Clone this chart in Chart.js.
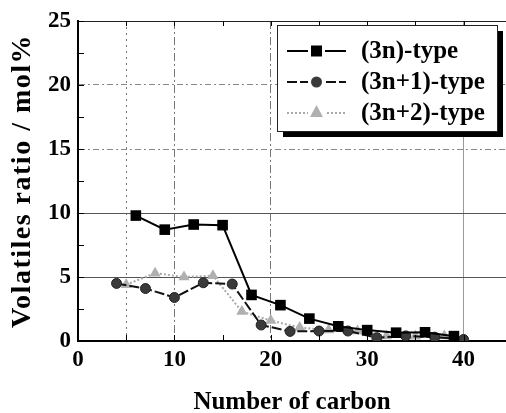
<!DOCTYPE html>
<html lang="en">

<head>
    <meta charset="UTF-8">
    <title>Volatiles ratio vs number of carbon</title>
    <script src="https://cdn.jsdelivr.net/npm/chart.js@4/dist/chart.umd.js"></script>
    <style>
        body {
            margin: 0;
            background: #fff;
        }

        #wrap {
            width: 506px;
            height: 413px;
        }
    </style>
</head>

<body>
    <div id="wrap">
        <canvas id="volChart" width="506" height="413"></canvas>
    </div>

    <script>
        const carbon3n = [6, 9, 12, 15, 18, 21, 24, 27, 30, 33, 36, 39];
        const ratio3n = [9.8, 8.7, 9.1, 9.05, 3.6, 2.8, 1.75, 1.15, 0.85, 0.65, 0.68, 0.38];
        const carbon3n1 = [4, 7, 10, 13, 16, 19, 22, 25, 28, 31, 34, 37, 40];
        const ratio3n1 = [4.5, 4.1, 3.4, 4.55, 4.45, 1.25, 0.75, 0.78, 0.78, 0.26, 0.4, 0.3, 0.12];
        const carbon3n2 = [5, 8, 11, 14, 17, 20, 23, 26, 29, 32, 35, 38];
        const ratio3n2 = [4.4, 5.3, 5.0, 5.1, 2.3, 1.6, 1.05, 0.85, 0.78, 0.4, 0.38, 0.4];
        const seriesNames = ['(3n)-type', '(3n+1)-type', '(3n+2)-type'];
        const xTickLabels = [0, 10, 20, 30, 40];
        const yTickLabels = [0, 5, 10, 15, 20, 25];

        const serif = "'Liberation Serif', 'Times New Roman', serif";
        Chart.defaults.font.family = serif;

        function toPoints(xs, ys) {
            return xs.map((x, i) => ({ x: x, y: ys[i] }));
        }

        // short inward tick marks like the original plot
        const innerTicks = {
            id: 'innerTicks',
            afterDatasetsDraw(chart) {
                const { ctx, chartArea, scales } = chart;
                ctx.save();
                ctx.strokeStyle = '#000';
                ctx.lineWidth = 1;
                ctx.beginPath();
                scales.y.ticks.forEach(t => {
                    if (t.value <= 0 || t.value > 25) return;
                    const py = Math.round(scales.y.getPixelForValue(t.value)) + 0.5;
                    ctx.moveTo(chartArea.left, py);
                    ctx.lineTo(chartArea.left + 6, py);
                });
                scales.x.ticks.forEach(t => {
                    if (t.value <= 0 || t.value > 40) return;
                    const px = Math.round(scales.x.getPixelForValue(t.value)) + 0.5;
                    ctx.moveTo(px, chartArea.bottom);
                    ctx.lineTo(px, chartArea.bottom - 6);
                    ctx.moveTo(px, chartArea.top);
                    ctx.lineTo(px, chartArea.top + 5);
                });
                ctx.stroke();
                ctx.restore();
            }
        };

        // boxed legend with a drop shadow
        const boxLegend = {
            id: 'boxLegend',
            afterDraw(chart) {
                const ctx = chart.ctx;
                const bx = 277, by = 25, bw = 220, bh = 106;
                ctx.save();
                ctx.fillStyle = '#000';
                ctx.fillRect(bx + 6, by + 6, bw, bh);
                ctx.fillStyle = '#fff';
                ctx.fillRect(bx, by, bw, bh);
                ctx.strokeStyle = '#222';
                ctx.lineWidth = 1;
                ctx.strokeRect(bx + 0.5, by + 0.5, bw, bh);

                chart.data.datasets.forEach((ds, i) => {
                    const cy = 51 + i * 31;
                    ctx.strokeStyle = ds.borderColor;
                    ctx.lineWidth = ds.borderWidth;
                    ctx.setLineDash(ds.borderDash || []);
                    ctx.beginPath();
                    ctx.moveTo(287, cy);
                    ctx.lineTo(346, cy);
                    ctx.stroke();
                    ctx.setLineDash([]);
                    ctx.fillStyle = '#fff';
                    ctx.fillRect(308, cy - 8, 17, 16);
                    ctx.fillStyle = ds.pointBackgroundColor;
                    ctx.beginPath();
                    if (ds.pointStyle === 'rect') {
                        ctx.rect(311, cy - 5.5, 11, 11);
                    } else if (ds.pointStyle === 'circle') {
                        ctx.arc(316.5, cy, 5.5, 0, Math.PI * 2);
                    } else {
                        ctx.moveTo(316.5, cy - 8);
                        ctx.lineTo(323, cy + 4);
                        ctx.lineTo(310, cy + 4);
                        ctx.closePath();
                    }
                    ctx.fill();
                    ctx.fillStyle = '#000';
                    ctx.font = 'bold 25px ' + serif;
                    ctx.textBaseline = 'middle';
                    ctx.textAlign = 'left';
                    ctx.fillText(ds.label, 361, cy + 1);
                });
                ctx.restore();
            }
        };

        const ctx = document.getElementById('volChart').getContext('2d');
        new Chart(ctx, {
            type: 'line',
            data: {
                datasets: [{
                    label: seriesNames[0],
                    data: toPoints(carbon3n, ratio3n),
                    borderColor: '#000',
                    borderWidth: 2,
                    pointStyle: 'rect',
                    pointRadius: 7.5,
                    pointBackgroundColor: '#000',
                    pointBorderColor: '#000',
                    pointBorderWidth: 0
                }, {
                    label: seriesNames[1],
                    data: toPoints(carbon3n1, ratio3n1),
                    borderColor: '#111',
                    borderWidth: 2,
                    borderDash: [10, 3],
                    pointStyle: 'circle',
                    pointRadius: 5,
                    pointBackgroundColor: '#3a3a3a',
                    pointBorderColor: '#222',
                    pointBorderWidth: 1
                }, {
                    label: seriesNames[2],
                    data: toPoints(carbon3n2, ratio3n2),
                    borderColor: '#a8a8a8',
                    borderWidth: 2,
                    borderDash: [2, 2],
                    pointStyle: 'triangle',
                    pointRadius: 6.5,
                    pointBackgroundColor: '#b0b0b0',
                    pointBorderColor: '#b0b0b0',
                    pointBorderWidth: 0
                }]
            },
            options: {
                responsive: false,
                animation: false,
                layout: {
                    autoPadding: false,
                    padding: { top: 21, right: 0, left: 0, bottom: 0 }
                },
                plugins: {
                    legend: { display: false },
                    tooltip: { enabled: false }
                },
                scales: {
                    x: {
                        type: 'linear',
                        min: 0,
                        max: 44.4,
                        afterFit: s => { s.height = 72; },
                        afterBuildTicks: s => {
                            s.ticks = [0, 5, 10, 15, 20, 25, 30, 35, 40].map(v => ({ value: v }));
                        },
                        ticks: {
                            padding: 5,
                            color: '#000',
                            font: { family: serif, size: 23, weight: 'bold' },
                            callback: v => xTickLabels.includes(v) ? String(v) : ''
                        },
                        grid: {
                            drawTicks: false,
                            color: c => {
                                const v = c.tick ? c.tick.value : null;
                                if (v === 40) return '#9a9a9a';
                                if (v === 5 || v === 10 || v === 20) return '#777';
                                return 'rgba(0,0,0,0)';
                            },
                            lineWidth: 1
                        },
                        border: {
                            display: true,
                            color: '#000',
                            width: 2,
                            dash: c => {
                                const v = c.tick ? c.tick.value : null;
                                if (v === 5) return [2, 4];
                                if (v === 10 || v === 20) return [8, 3, 2, 3];
                                return [];
                            }
                        },
                        title: {
                            display: true,
                            text: 'Number of carbon',
                            color: '#000',
                            padding: { top: 0, bottom: 0 },
                            font: { family: serif, size: 25, weight: 'bold', lineHeight: 0.8 }
                        }
                    },
                    y: {
                        min: 0,
                        max: 25,
                        afterFit: s => {
                            s.width = 78;
                            // the scanned y title runs a little longer
                            if (!s._spaced) {
                                const orig = s.drawTitle;
                                s.drawTitle = function () {
                                    this.ctx.save();
                                    this.ctx.letterSpacing = '1.5px';
                                    orig.call(this);
                                    this.ctx.restore();
                                };
                                s._spaced = true;
                            }
                        },
                        afterBuildTicks: s => {
                            const t = [];
                            for (let v = 0; v <= 25; v += 2.5) t.push({ value: v });
                            s.ticks = t;
                        },
                        ticks: {
                            padding: 7,
                            color: '#000',
                            font: { family: serif, size: 23, weight: 'bold' },
                            callback: v => yTickLabels.includes(v) ? String(v) : ''
                        },
                        grid: {
                            drawTicks: false,
                            color: c => {
                                const v = c.tick ? c.tick.value : null;
                                if (v === 25) return '#222';
                                if (v === 5 || v === 10) return '#555';
                                if (v === 15 || v === 20) return '#888';
                                return 'rgba(0,0,0,0)';
                            },
                            lineWidth: 1
                        },
                        border: {
                            display: true,
                            color: '#000',
                            width: 2,
                            dash: c => {
                                const v = c.tick ? c.tick.value : null;
                                if (v === 15 || v === 20) return [6, 3, 2, 3];
                                return [];
                            }
                        },
                        title: {
                            display: true,
                            text: 'Volatiles ratio / mol%',
                            color: '#000',
                            padding: { top: 9, bottom: 0 },
                            font: { family: serif, size: 28, weight: 'bold', lineHeight: 1 }
                        }
                    }
                }
            },
            plugins: [innerTicks, boxLegend]
        });
    </script>
</body>

</html>
